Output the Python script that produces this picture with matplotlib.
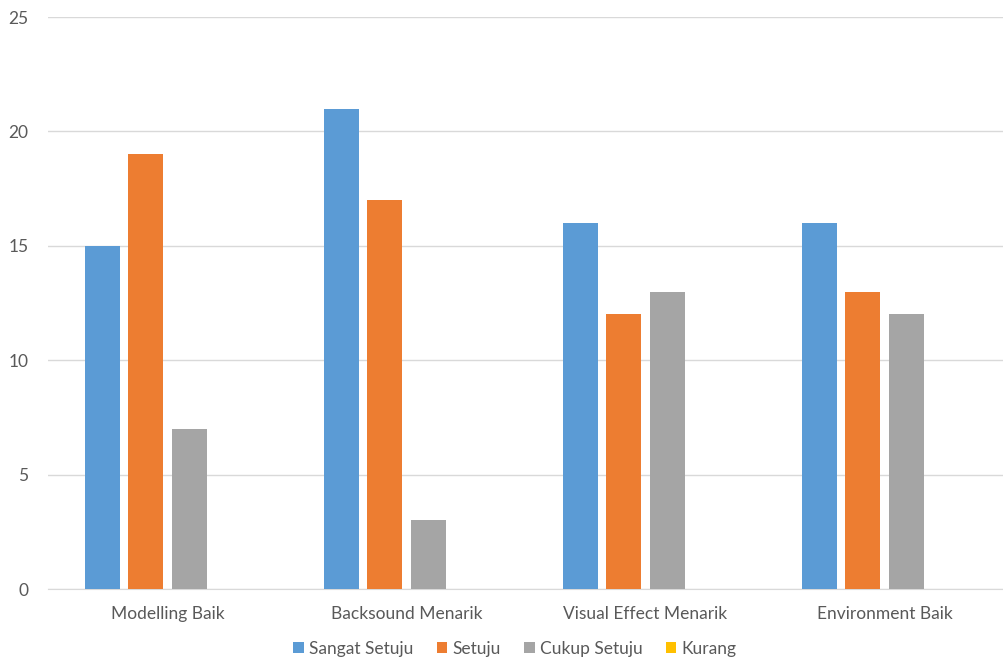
import numpy as np
import matplotlib.pyplot as plt

categories = ['Modelling Baik', 'Backsound Menarik', 'Visual Effect Menarik', 'Environment Baik']
series_names = ['Sangat Setuju', 'Setuju', 'Cukup Setuju', 'Kurang']
sangat_setuju = [15, 21, 16, 16]
setuju = [19, 17, 12, 13]
cukup_setuju = [7, 3, 13, 12]
kurang = [0, 0, 0, 0]
colours = ['#5B9BD5', '#ED7D31', '#A5A5A5', '#FFC000']

plt.rcParams['font.family'] = ['Lato', 'DejaVu Sans']

fig = plt.figure(figsize=(10.04, 6.59), dpi=100)
ax = fig.add_axes([48 / 1004, 70 / 659, 956 / 1004, 572 / 659])

x = np.arange(len(categories))
slot = 0.182
width = 0.146
for i, (name, vals, colour) in enumerate(zip(series_names,
                                             [sangat_setuju, setuju, cukup_setuju, kurang],
                                             colours)):
    ax.bar(x + (i - 1.5) * slot, vals, width=width, color=colour, label=name, zorder=3)

ax.set_xlim(-0.5, len(categories) - 0.5)
ax.set_ylim(0, 25)
ax.set_yticks(range(0, 26, 5))
ax.set_xticks(x)
ax.set_xticklabels(categories)
ax.grid(axis='y', color='#D9D9D9', linewidth=1, zorder=0)
for side in ['top', 'right', 'left']:
    ax.spines[side].set_visible(False)
ax.spines['bottom'].set_color('#D9D9D9')
ax.tick_params(axis='both', length=0, colors='#595959', labelsize=12.5)
ax.tick_params(axis='y', pad=14)
ax.tick_params(axis='x', pad=12)

ax.legend(loc='center', bbox_to_anchor=(467 / 956, -0.105), ncol=4, frameon=False,
          fontsize=12.5, handlelength=0.6, handleheight=0.6, handletextpad=0.3,
          columnspacing=1.35, labelcolor='#595959')

fig.savefig('out.png', dpi=100)
